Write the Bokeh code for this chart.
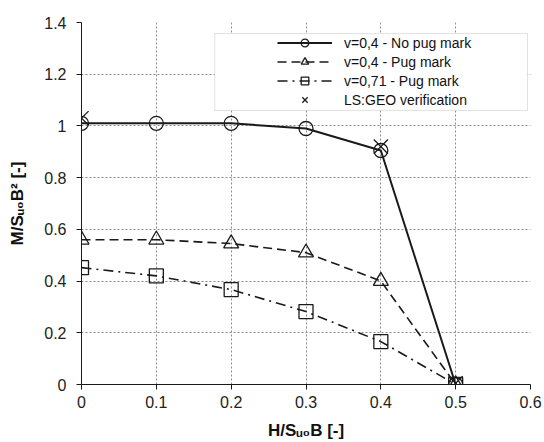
from bokeh.plotting import figure
from bokeh.models import (Legend, LegendItem, FixedTicker, BoxAnnotation, Range1d)
from bokeh.embed import file_html
from bokeh.resources import INLINE

# ---- data ----
x_vals = [0.0, 0.1, 0.2, 0.3, 0.4, 0.5]
no_pug_04 = [1.01, 1.01, 1.01, 0.99, 0.905, 0.0]
pug_04 = [0.56, 0.56, 0.545, 0.51, 0.40, 0.0]
pug_071 = [0.452, 0.42, 0.367, 0.282, 0.166, 0.0]
geo_x = [0.0, 0.4, 0.5]
geo_y = [1.03, 0.92, 0.005]

x_ticks = [0.0, 0.1, 0.2, 0.3, 0.4, 0.5, 0.6]
x_tick_labels = ["0", "0.1", "0.2", "0.3", "0.4", "0.5", "0.6"]
y_ticks = [0.0, 0.2, 0.4, 0.6, 0.8, 1.0, 1.2, 1.4]
y_tick_labels = ["0", "0.2", "0.4", "0.6", "0.8", "1", "1.2", "1.4"]

series_names = ["v=0,4 - No pug mark", "v=0,4 - Pug mark", "v=0,71 - Pug mark", "LS:GEO verification"]
x_title = "H/S\u1d64\u2080B [-]"
y_title = "M/S\u1d64\u2080B\u00b2 [-]"

FONT = "Liberation Sans"
INK = "#1a1a1a"

p = figure(width=544, height=442, output_backend="svg", toolbar_location=None,
           x_range=Range1d(0, 0.6), y_range=Range1d(0, 1.4),
           min_border_left=81, min_border_right=14, min_border_top=22, min_border_bottom=58)
p.outline_line_color = None
p.background_fill_color = "white"

for ax in (p.xaxis[0], p.yaxis[0]):
    ax.axis_line_color = INK
    ax.axis_line_width = 1
    ax.major_tick_line_color = INK
    ax.major_tick_out = 5
    ax.major_tick_in = 0
    ax.minor_tick_line_color = None
    ax.major_label_text_font = FONT
    ax.major_label_text_font_size = "16px"
    ax.major_label_text_color = "#222222"
    ax.axis_label_text_font = FONT
    ax.axis_label_text_font_style = "bold"
    ax.axis_label_text_font_size = "17px"
    ax.axis_label_text_color = "#111111"

p.xaxis[0].ticker = FixedTicker(ticks=x_ticks)
p.xaxis[0].major_label_overrides = {t: l for t, l in zip(x_ticks, x_tick_labels)}
p.xaxis[0].major_label_standoff = 6
p.xaxis[0].axis_label = x_title
p.xaxis[0].axis_label_standoff = 10
p.yaxis[0].ticker = FixedTicker(ticks=y_ticks)
p.yaxis[0].major_label_overrides = {t: l for t, l in zip(y_ticks, y_tick_labels)}
p.yaxis[0].major_label_standoff = 10
p.yaxis[0].axis_label = y_title
p.yaxis[0].axis_label_standoff = 14

for g in (p.xgrid[0], p.ygrid[0]):
    g.grid_line_color = "#8a8a8a"
    g.grid_line_dash = "2 2"
    g.grid_line_width = 1

# series
l1 = p.line(x_vals, no_pug_04, line_color=INK, line_width=2)
s1 = p.scatter(x_vals, no_pug_04, marker="circle", size=14, fill_color=None,
               line_color=INK, line_width=1.3)
l2 = p.line(x_vals, pug_04, line_color=INK, line_width=1.6, line_dash="9 5")
s2 = p.scatter(x_vals, pug_04, marker="triangle", size=15, fill_color=None,
               line_color=INK, line_width=1.3)
l3 = p.line(x_vals, pug_071, line_color=INK, line_width=1.6, line_dash="10 5 2 5")
s3 = p.scatter(x_vals, pug_071, marker="square", size=14, fill_color=None,
               line_color=INK, line_width=1.3)
s4 = p.scatter(geo_x, geo_y, marker="x", size=20, line_color=INK, line_width=1.3)

# legend box
box = BoxAnnotation(left=0.178, right=0.596, bottom=1.06, top=1.357,
                    fill_color="white", fill_alpha=1.0, line_color="#9a9a9a", line_width=1)
p.add_layout(box)

legend = Legend(items=[
    LegendItem(label=series_names[0], renderers=[l1, s1]),
    LegendItem(label=series_names[1], renderers=[l2, s2]),
    LegendItem(label=series_names[2], renderers=[l3, s3]),
    LegendItem(label=series_names[3], renderers=[s4]),
], location=(196, 275), padding=0, margin=0, spacing=0,
    glyph_width=55, glyph_height=19, label_height=19, label_standoff=12,
    label_text_font=FONT, label_text_font_size="14px", label_text_color="#111111",
    background_fill_alpha=0, border_line_alpha=0)
p.add_layout(legend, "center")

open("out.html", "w").write(file_html(p, INLINE))
